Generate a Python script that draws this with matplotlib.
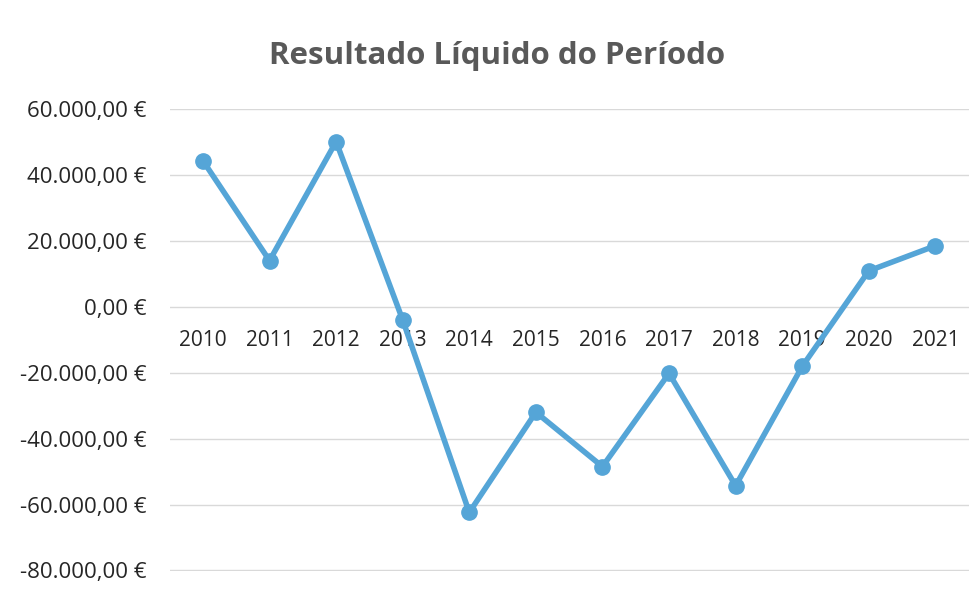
import matplotlib.pyplot as plt
from matplotlib.ticker import FuncFormatter, FixedLocator

# Resultado liquido por ano
anos = ["2010", "2011", "2012", "2013", "2014", "2015",
        "2016", "2017", "2018", "2019", "2020", "2021"]
resultado = [44300, 14000, 50100, -4000, -62400, -32000,
             -48500, -20200, -54300, -18100, 10900, 18500]
ticks_y = [-80000, -60000, -40000, -20000, 0, 20000, 40000, 60000]

plt.rcParams['font.family'] = ['Open Sans', 'DejaVu Sans']


def euro(v, pos):
  # formato portugues: 60.000,00 €
  s = f"{v:,.2f}".replace(",", "X").replace(".", ",").replace("X", ".")
  return s + " \u20ac"


fig = plt.figure(figsize=(9.75, 5.94), dpi=100)
ax = fig.add_axes([0.174, 0.0380, 0.8195, 0.7785])

x = list(range(len(anos)))
ax.plot(x, resultado, color='#55a5d7', linewidth=4, marker='o',
        markersize=11, solid_capstyle='round', zorder=3)

ax.set_xlim(-0.5, len(anos) - 0.5)
ax.set_ylim(-80300, 60000)
ax.yaxis.set_major_locator(FixedLocator(ticks_y))
ax.yaxis.set_major_formatter(FuncFormatter(euro))
ax.grid(axis='y', color='#d9d9d9', linewidth=1)
ax.set_axisbelow(True)

for s in ['top', 'right', 'left']:
  ax.spines[s].set_visible(False)
ax.spines['bottom'].set_position(('data', 0))
ax.spines['bottom'].set_visible(False)

ax.set_xticks(x)
ax.set_xticklabels(anos)
ax.tick_params(axis='x', length=0, pad=17, labelsize=15, labelcolor='#262626')
ax.tick_params(axis='y', length=0, pad=17, labelsize=16, labelcolor='#262626')

fig.text(0.51, 0.906, "Resultado L\u00edquido do Per\u00edodo", ha='center',
         va='center', fontsize=22.5, fontweight='bold', color='#595959')

fig.savefig("out.png", dpi=100)
